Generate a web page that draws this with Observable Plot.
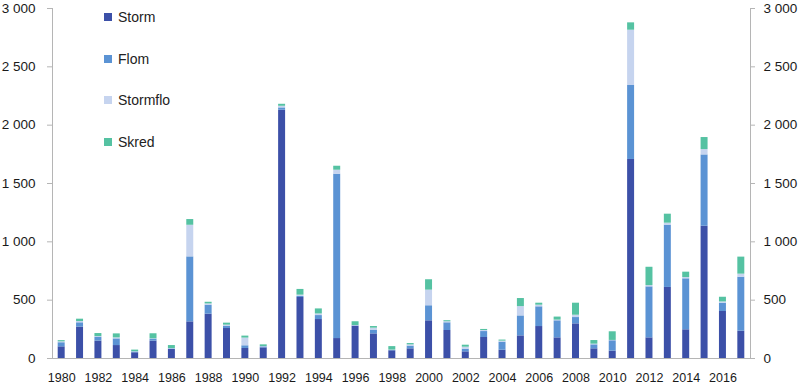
<!DOCTYPE html>
<html>
<head>
<meta charset="utf-8">
<script src="https://cdn.jsdelivr.net/npm/d3@7"></script>
<script src="https://cdn.jsdelivr.net/npm/@observablehq/plot@0.6"></script>
<style>
  html, body { margin: 0; padding: 0; background: #fff; }
  #wrap { position: relative; width: 800px; height: 387px; font-family: "Liberation Sans", Arial, sans-serif; }
  #legend { position: absolute; left: 104px; top: 0; font-size: 14px; color: #222; }
  #legend .item { position: absolute; left: 0; white-space: nowrap; display: flex; align-items: center; }
  #legend .sw { width: 8px; height: 8px; margin-right: 6px; display: inline-block; }
</style>
</head>
<body>
<div id="wrap"><div id="legend"></div></div>
<script>
const years = d3.range(1980, 2018);
const series = ["Storm", "Flom", "Stormflo", "Skred"];
const colors = ["#3c50a8", "#5b93d4", "#c6d4ef", "#55c2a2"];
const storm    = [100,269,149,111,49,149,77,314,380,257,86,91,2128,523,334,171,277,211,66,83,323,240,57,180,71,194,274,177,297,83,63,1706,177,609,246,1134,403,234];
const flom     = [35,37,34,57,6,17,5,557,77,20,23,9,20,9,34,1409,3,29,3,23,129,66,23,51,69,171,169,146,54,34,89,634,437,534,437,611,71,463];
const stormflo = [8,11,5,9,3,3,3,271,11,9,66,3,14,11,14,34,3,20,3,11,134,9,17,9,9,80,14,6,20,6,3,474,11,17,11,46,11,26];
const skred    = [10,20,26,34,14,43,26,49,14,17,17,14,17,49,43,34,32,14,30,11,89,9,17,9,9,69,17,26,103,31,74,63,157,77,46,103,40,146];
const yTicks = [0, 500, 1000, 1500, 2000, 2500, 3000];
const xTicks = years.filter(y => y % 2 === 0);

const valuesBySeries = [storm, flom, stormflo, skred];
const data = [];
years.forEach((yr, i) => series.forEach((s, j) => data.push({year: yr, type: s, value: valuesBySeries[j][i]})));

const fmt = d => d3.format(",")(d).replace(/,/g, " ");

const chart = Plot.plot({
  width: 800,
  height: 387,
  marginLeft: 52,
  marginRight: 50,
  marginTop: 8,
  marginBottom: 29,
  style: {fontFamily: "'Liberation Sans', Arial, sans-serif", color: "#1a1a1a", background: "#fff"},
  x: {type: "band", domain: years, paddingInner: 0.62, paddingOuter: 0.31, round: false, label: null},
  y: {domain: [0, 3000], label: null},
  color: {domain: series, range: colors},
  marks: [
    Plot.barY(data, {x: "year", y: "value", fill: "type", order: series}),
    Plot.ruleY([0], {stroke: "#b5b5b5"}),
    Plot.frame({anchor: "left", stroke: "#b5b5b5"}),
    Plot.frame({anchor: "right", stroke: "#b5b5b5"}),
    Plot.axisY({anchor: "left", ticks: yTicks, tickFormat: fmt, tickSize: 5, tickPadding: 12, stroke: "#b5b5b5", fontSize: 13.5, label: null}),
    Plot.axisY({anchor: "right", ticks: yTicks, tickFormat: fmt, tickSize: 4, tickPadding: 9, stroke: "#b5b5b5", fontSize: 13.5, label: null}),
    Plot.axisX({ticks: xTicks, tickFormat: d => String(d), tickSize: 0, tickPadding: 15, fontSize: 12.5, label: null})
  ]
});
document.getElementById("wrap").prepend(chart);

const legend = document.getElementById("legend");
const rowsY = [18, 60, 101, 143];
series.forEach((s, i) => {
  const div = document.createElement("div");
  div.className = "item";
  div.style.top = (rowsY[i] - 9) + "px";
  div.innerHTML = `<span class="sw" style="background:${colors[i]}"></span><span>${s}</span>`;
  legend.appendChild(div);
});
</script>
</body>
</html>
